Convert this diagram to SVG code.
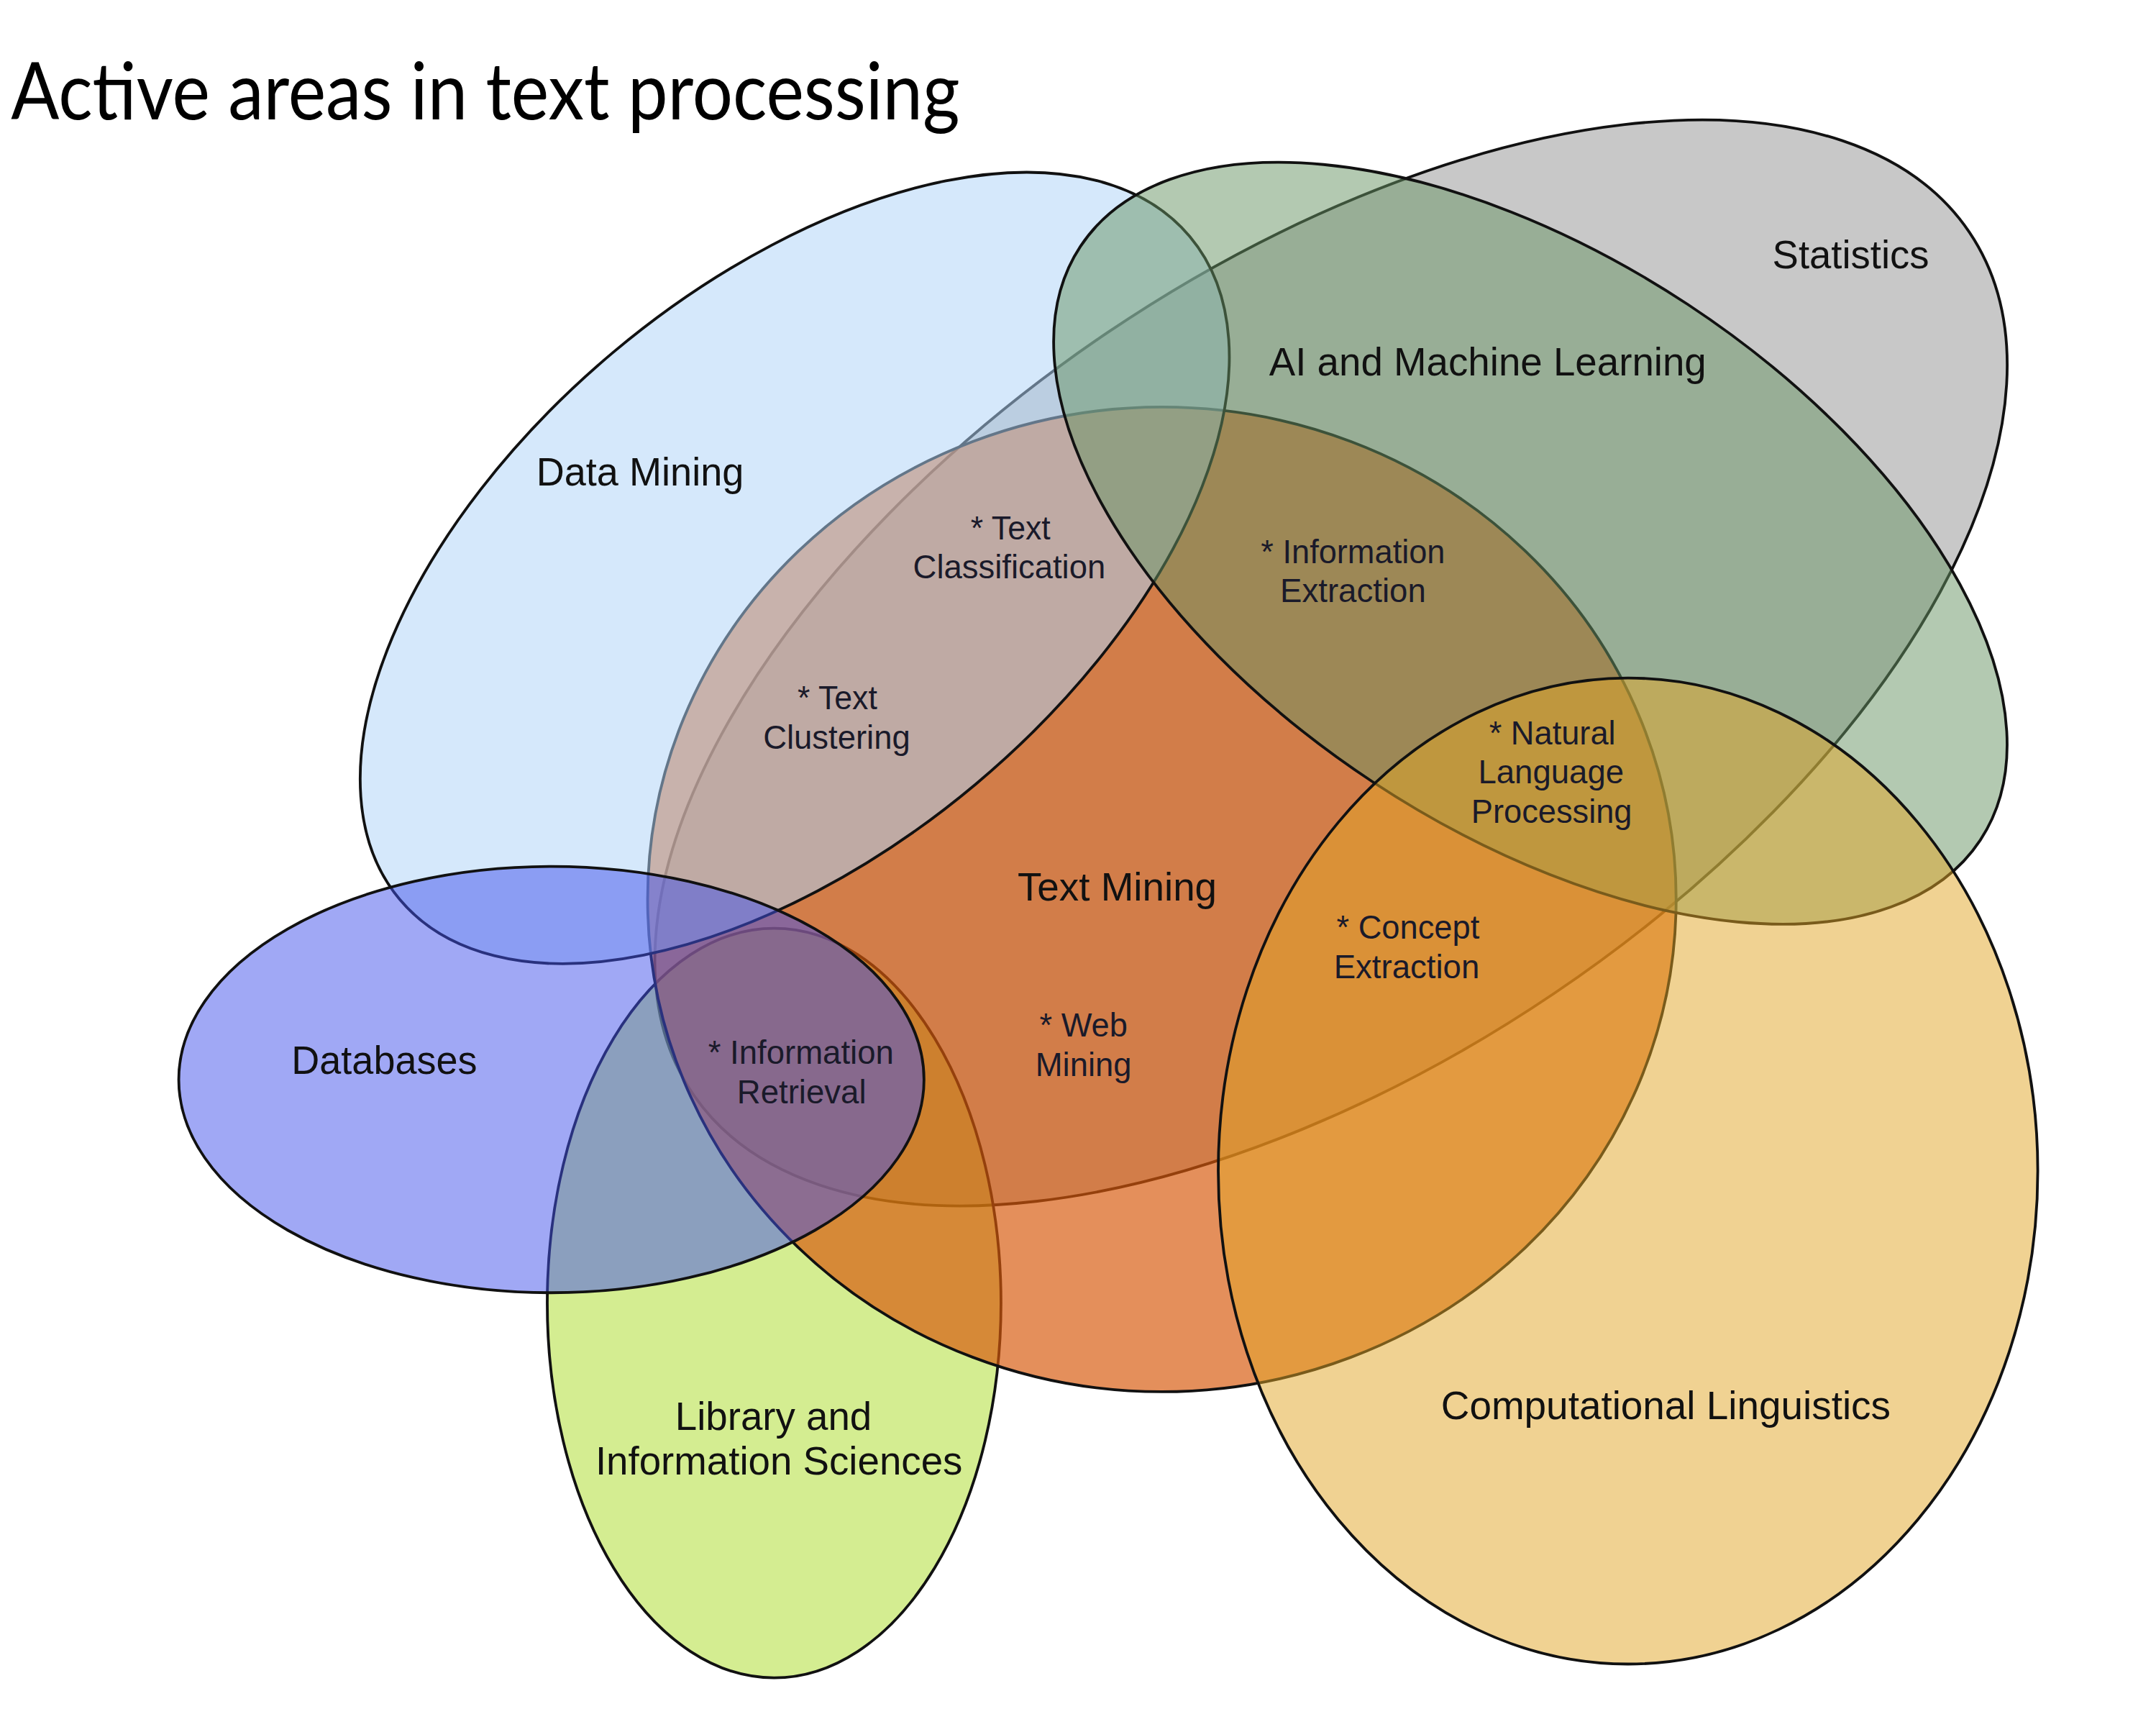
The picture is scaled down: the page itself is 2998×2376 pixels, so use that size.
<svg xmlns="http://www.w3.org/2000/svg" width="2998" height="2376" viewBox="0 0 2998 2376">
<style>
.e{stroke:#111;stroke-width:2}
.m{font-family:"Liberation Sans",Arial,sans-serif;font-size:28.6px;fill:#111;text-anchor:middle}
.s{font-family:"Liberation Sans",Arial,sans-serif;font-size:23.8px;fill:#1a1a2a;text-anchor:middle}
.t{font-family:Lato,"Open Sans",sans-serif;font-size:58px;fill:#000}
</style>
<rect width="2998" height="2376" fill="#fff"/>
<g transform="scale(1.912)">
<text class="t" x="8" y="87" textLength="690" lengthAdjust="spacingAndGlyphs">Active areas in text processing</text>
<g id="statistics">
<ellipse class="e" cx="968" cy="482" rx="560" ry="290" transform="rotate(-34 968 482)" fill="#c8c8c8"/>
<text class="m" x="1346" y="195" textLength="114" lengthAdjust="spacingAndGlyphs">Statistics</text>
</g>
<g id="library">
<ellipse class="e" cx="563" cy="947.5" rx="165" ry="272.5" fill="#a9db23" fill-opacity="0.5"/>
<text class="m" x="562.5" y="1040" textLength="143" lengthAdjust="spacingAndGlyphs">Library and</text>
<text class="m" x="566.5" y="1072" textLength="267" lengthAdjust="spacingAndGlyphs">Information Sciences</text>
</g>
<g id="text-mining">
<ellipse class="e" cx="845" cy="654" rx="374" ry="358" fill="#d7580a" fill-opacity="0.67"/>
<text class="m" x="812.5" y="655" textLength="145" lengthAdjust="spacingAndGlyphs">Text Mining</text>
</g>
<g id="data-mining">
<ellipse class="e" cx="578" cy="413" rx="375" ry="205" transform="rotate(-40 578 413)" fill="#aed3f7" fill-opacity="0.52"/>
<text class="m" x="465.5" y="353" textLength="151" lengthAdjust="spacingAndGlyphs">Data Mining</text>
</g>
<g id="ai-ml">
<ellipse class="e" cx="1113" cy="395" rx="392" ry="208" transform="rotate(33.4 1113 395)" fill="#679363" fill-opacity="0.5"/>
<text class="m" x="1082" y="273" textLength="318" lengthAdjust="spacingAndGlyphs">AI and Machine Learning</text>
</g>
<g id="databases">
<ellipse class="e" cx="401" cy="785" rx="271" ry="155" fill="#4151eb" fill-opacity="0.5"/>
<text class="m" x="279.5" y="781" textLength="135" lengthAdjust="spacingAndGlyphs">Databases</text>
</g>
<g id="comp-ling">
<ellipse class="e" cx="1184" cy="851.5" rx="298" ry="358.5" fill="#e1a525" fill-opacity="0.5"/>
<text class="m" x="1211.5" y="1032" textLength="327" lengthAdjust="spacingAndGlyphs">Computational Linguistics</text>
</g>
<g id="overlap-labels">
<text class="s" x="735" y="392.5" textLength="58" lengthAdjust="spacingAndGlyphs">* Text</text>
<text class="s" x="734" y="420.5" textLength="140" lengthAdjust="spacingAndGlyphs">Classification</text>
<text class="s" x="984" y="409.5" textLength="134" lengthAdjust="spacingAndGlyphs">* Information</text>
<text class="s" x="984" y="437.5" textLength="106" lengthAdjust="spacingAndGlyphs">Extraction</text>
<text class="s" x="609" y="515.5" textLength="58" lengthAdjust="spacingAndGlyphs">* Text</text>
<text class="s" x="608.5" y="544.5" textLength="107" lengthAdjust="spacingAndGlyphs">Clustering</text>
<text class="s" x="1129" y="541.5" textLength="92" lengthAdjust="spacingAndGlyphs">* Natural</text>
<text class="s" x="1128" y="569.5" textLength="106" lengthAdjust="spacingAndGlyphs">Language</text>
<text class="s" x="1128.5" y="598.5" textLength="117" lengthAdjust="spacingAndGlyphs">Processing</text>
<text class="s" x="1024" y="682.5" textLength="104" lengthAdjust="spacingAndGlyphs">* Concept</text>
<text class="s" x="1023" y="711.5" textLength="106" lengthAdjust="spacingAndGlyphs">Extraction</text>
<text class="s" x="788" y="753.5" textLength="64" lengthAdjust="spacingAndGlyphs">* Web</text>
<text class="s" x="788" y="782.5" textLength="70" lengthAdjust="spacingAndGlyphs">Mining</text>
<text class="s" x="582.5" y="773.5" textLength="135" lengthAdjust="spacingAndGlyphs">* Information</text>
<text class="s" x="583" y="802.5" textLength="94" lengthAdjust="spacingAndGlyphs">Retrieval</text>
</g>
</g>
</svg>
